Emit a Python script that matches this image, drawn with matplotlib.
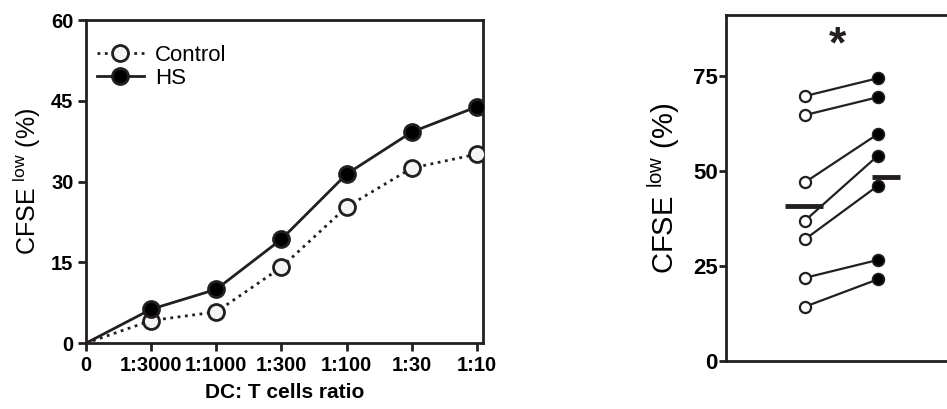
import matplotlib
matplotlib.use("Agg")
import matplotlib.pyplot as plt

plt.rcParams["font.family"] = ["Liberation Sans", "DejaVu Sans"]
plt.rcParams["mathtext.default"] = "regular"

INK = "#231f20"

# left panel: dose response
ratio_labels = ["0", "1:3000", "1:1000", "1:300", "1:100", "1:30", "1:10"]
control_curve = [0, 4.2, 5.8, 14.1, 25.3, 32.5, 35.1]
hs_curve = [0, 6.3, 10.0, 19.3, 31.4, 39.2, 43.9]

# right panel: paired donors
control_pairs = [69.7, 64.7, 47.0, 36.9, 32.0, 21.9, 14.3]
hs_pairs = [74.4, 69.4, 59.7, 54.0, 46.1, 26.6, 21.5]
control_mean = 40.7
hs_mean = 48.4

ylabel = r"CFSE $^{low}$ (%)"

fig = plt.figure(figsize=(9.47, 4.09), dpi=100)

# ── left panel ──
ax = fig.add_axes([0.0908, 0.161, 0.419, 0.790])
xs = list(range(len(ratio_labels)))
ax.plot(xs, control_curve, ls=":", lw=2, color=INK, marker="o", ms=11.5,
        mfc="#f4f4f4", mec=INK, mew=2, markevery=list(range(1, 7)),
        label="Control", zorder=3)
ax.plot(xs, hs_curve, ls="-", lw=2, color=INK, marker="o", ms=11.5,
        mfc="black", mec=INK, mew=2, markevery=list(range(1, 7)),
        label="HS", zorder=4)
ax.set_xlim(0, 6.09)
ax.set_ylim(0, 60)
ax.set_xticks(xs)
ax.set_xticklabels(ratio_labels)
ax.set_yticks([0, 15, 30, 45, 60])
ax.set_xlabel("DC: T cells ratio", fontsize=15, fontweight="bold", labelpad=6)
ax.set_ylabel(ylabel, fontsize=18, labelpad=6)
for s in ax.spines.values():
    s.set_linewidth(2)
    s.set_color(INK)
ax.tick_params(direction="out", length=6, width=2, color=INK,
               labelsize=14.5, pad=3)
for t in ax.get_xticklabels() + ax.get_yticklabels():
    t.set_fontweight("bold")
ax.legend(loc="upper left", bbox_to_anchor=(0.0, 0.957), frameon=False,
          fontsize=16, handlelength=2.1, handletextpad=0.5,
          borderaxespad=0.1, labelspacing=0.1)

# ── right panel ──
ax2 = fig.add_axes([0.7666, 0.117, 0.2334, 0.846])
for c, h in zip(control_pairs, hs_pairs):
    ax2.plot([1, 2], [c, h], color=INK, lw=1.6, zorder=2)
ax2.plot([1] * len(control_pairs), control_pairs, ls="none", marker="o",
         ms=8, mfc="white", mec=INK, mew=1.6, zorder=3)
ax2.plot([2] * len(hs_pairs), hs_pairs, ls="none", marker="o",
         ms=8.5, mfc="black", mec=INK, mew=1.2, zorder=3)
ax2.hlines(control_mean, 0.73, 1.25, color=INK, lw=3.5, zorder=4)
ax2.hlines(hs_mean, 1.92, 2.3, color=INK, lw=3.5, zorder=4)
ax2.text(1.45, 83, "*", ha="center", va="center", fontsize=32,
         fontweight="bold", color=INK)
ax2.set_xlim(-0.08, 2.95)
ax2.set_ylim(0, 91)
ax2.set_xticks([])
ax2.set_yticks([0, 25, 50, 75])
ax2.set_ylabel(ylabel, fontsize=21, labelpad=8)
for s in ax2.spines.values():
    s.set_linewidth(2)
    s.set_color(INK)
ax2.spines["right"].set_visible(False)
ax2.tick_params(axis="y", direction="out", length=5, width=2, color=INK,
                labelsize=16, pad=1)
for t in ax2.get_yticklabels():
    t.set_fontweight("bold")

fig.savefig("out.png", dpi=100, facecolor="white")
